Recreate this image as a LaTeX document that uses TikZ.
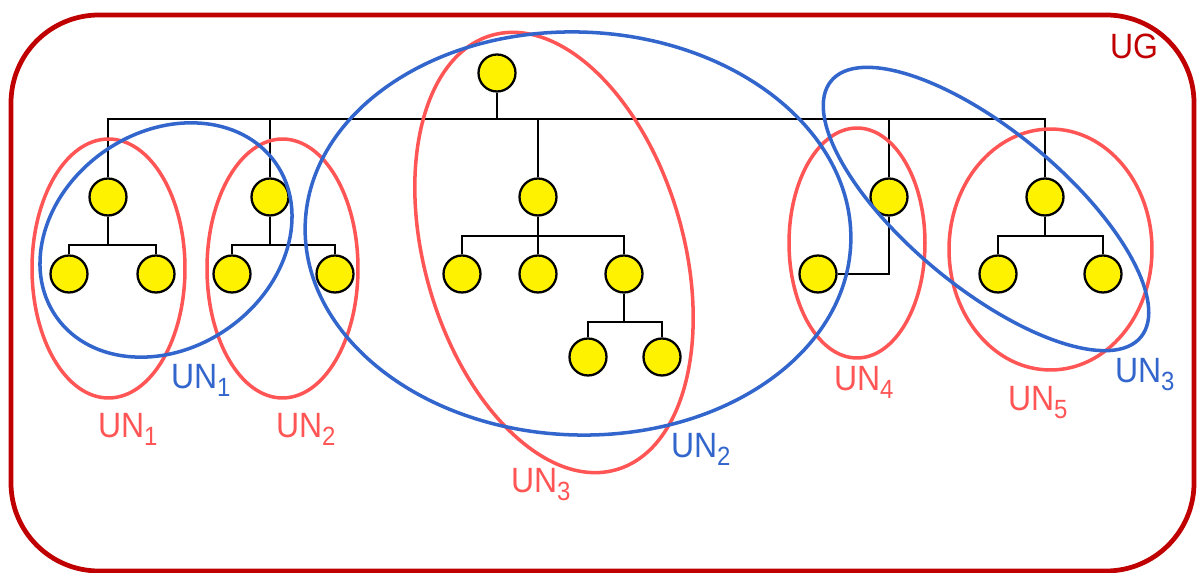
\documentclass[tikz,border=0pt]{standalone}
\usepackage{graphicx}
\usepackage{fontspec}
\setmainfont{Liberation Sans}
\definecolor{ugred}{RGB}{192,0,0}
\definecolor{unred}{RGB}{255,85,85}
\definecolor{unblue}{RGB}{51,102,204}
\newcommand{\unlab}[1]{UN\raisebox{-4pt}{\fontsize{15}{15}\selectfont #1}}
\newcommand{\lab}[1]{\scalebox{0.91}[1]{\fontsize{20}{20}\selectfont #1}}
\begin{document}
\begin{tikzpicture}[x=0.02cm,y=-0.02cm,
  vert/.style={circle,draw=black,fill=yellow,line width=1.3pt,minimum size=0.74cm,inner sep=0pt},
  edge/.style={line width=1.3pt,draw=black},
  redring/.style={draw=unred,line width=2pt},
  bluering/.style={draw=unblue,line width=2pt},
  lbl/.style={anchor=base west,inner sep=0pt,outer sep=0pt}]
\useasboundingbox (0,0) rectangle (1197,573);
\draw[ugred,line width=2.7pt,rounded corners=1.76cm] (11,15) rectangle (1194,571);
\node[lbl,text=ugred] (ug) at (1110,59) {\lab{UG}};

% tree nodes
\node[vert] (t0) at (497,73) {};
\node[vert] (a1) at (108,197) {};
\node[vert] (a2) at (270,197) {};
\node[vert] (a3) at (538,197) {};
\node[vert] (a4) at (889,197) {};
\node[vert] (a5) at (1045,197) {};
\node[vert] (b11) at (69,274) {};
\node[vert] (b12) at (156,274) {};
\node[vert] (b21) at (232,274) {};
\node[vert] (b22) at (335,274) {};
\node[vert] (b31) at (462,274) {};
\node[vert] (b32) at (538,274) {};
\node[vert] (b33) at (624,274) {};
\node[vert] (c1) at (588,357) {};
\node[vert] (c2) at (662,357) {};
\node[vert] (b41) at (818,274) {};
\node[vert] (b51) at (998,274) {};
\node[vert] (b52) at (1103,274) {};

% junction points
\coordinate (bus) at (497,119);
\coordinate (s1) at (108,245);
\coordinate (s2) at (270,245);
\coordinate (s3) at (538,236);
\coordinate (s3b) at (624,322);
\coordinate (s5) at (1045,236);

% connectors
\draw[edge] (t0) -- (bus);
\draw[edge] (a1) |- (bus);
\draw[edge] (a2) |- (bus);
\draw[edge] (a3) |- (bus);
\draw[edge] (a4) |- (bus);
\draw[edge] (a5) |- (bus);
\draw[edge] (a1) -- (s1);
\draw[edge] (b11) |- (s1);
\draw[edge] (b12) |- (s1);
\draw[edge] (a2) -- (s2);
\draw[edge] (b21) |- (s2);
\draw[edge] (b22) |- (s2);
\draw[edge] (a3) -- (s3);
\draw[edge] (b31) |- (s3);
\draw[edge] (b32) -- (s3);
\draw[edge] (b33) |- (s3);
\draw[edge] (b33) -- (s3b);
\draw[edge] (c1) |- (s3b);
\draw[edge] (c2) |- (s3b);
\draw[edge] (a4) |- (b41);
\draw[edge] (a5) -- (s5);
\draw[edge] (b51) |- (s5);
\draw[edge] (b52) |- (s5);

% red groups
\draw[redring] (108.5,268.5) ellipse [x radius=1.53cm, y radius=2.59cm];
\draw[redring] (282.5,268.5) ellipse [x radius=1.51cm, y radius=2.59cm];
\draw[redring,shift={(554,252.5)},rotate=16] (0,0) ellipse [x radius=2.59cm, y radius=4.52cm];
\draw[redring] (857,243) ellipse [x radius=1.36cm, y radius=2.30cm];
\draw[redring] (1050.5,249.5) ellipse [x radius=2.03cm, y radius=2.41cm];

% blue groups
\draw[bluering,shift={(166,240)},rotate=35] (0,0) ellipse [x radius=2.68cm, y radius=2.16cm];
\draw[bluering,shift={(578,233.5)},rotate=-2] (0,0) ellipse [x radius=5.46cm, y radius=4.03cm];
\draw[bluering,shift={(986,209)},rotate=-39.6] (0,0) ellipse [x radius=4.02cm, y radius=1.57cm];

% labels
\node[lbl,text=unblue] (lb1) at (171,389) {\lab{\unlab{1}}};
\node[lbl,text=unred] (lr1) at (98,438) {\lab{\unlab{1}}};
\node[lbl,text=unred] (lr2) at (276,438) {\lab{\unlab{2}}};
\node[lbl,text=unred] (lr3) at (511,493) {\lab{\unlab{3}}};
\node[lbl,text=unblue] (lb2) at (671,458) {\lab{\unlab{2}}};
\node[lbl,text=unred] (lr4) at (834,391) {\lab{\unlab{4}}};
\node[lbl,text=unred] (lr5) at (1008,411) {\lab{\unlab{5}}};
\node[lbl,text=unblue] (lb3) at (1115,383) {\lab{\unlab{3}}};
\end{tikzpicture}
\end{document}
